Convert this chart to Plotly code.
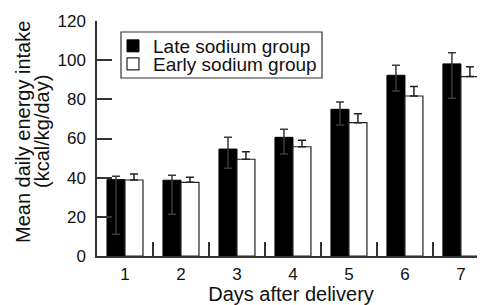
import plotly.graph_objects as go

days = ["1", "2", "3", "4", "5", "6", "7"]
late_mean = [39.0, 38.7, 54.6, 60.6, 74.9, 92.3, 98.1]
late_err_plus = [1.7, 2.5, 6.0, 4.1, 3.8, 5.1, 5.7]
late_err_minus = [27.9, 17.4, 9.8, 8.5, 8.0, 8.0, 17.6]
early_mean = [38.8, 37.6, 49.4, 55.8, 68.1, 81.7, 91.6]
early_err_plus = [3.1, 2.6, 3.8, 3.3, 4.6, 4.8, 5.1]
early_err_minus = [0, 0, 0, 0, 0, 0, 0]
y_title_lines = ["Mean daily energy intake", "(kcal/kg/day)"]

FONT = "Liberation Sans, Arial, sans-serif"

fig = go.Figure()
fig.add_trace(go.Bar(
    x=days, y=late_mean, name="Late sodium group", legend="legend",
    marker=dict(color="#000000", line=dict(color="#000000", width=1)),
    error_y=dict(type="data", symmetric=False, array=late_err_plus,
                 arrayminus=late_err_minus, color="#3a3a3a", thickness=1.5, width=4),
))
fig.add_trace(go.Bar(
    x=days, y=early_mean, name="Early sodium group", legend="legend2",
    marker=dict(color="#ffffff", line=dict(color="#222222", width=1.2)),
    error_y=dict(type="data", symmetric=False, array=early_err_plus,
                 arrayminus=early_err_minus, color="#222222", thickness=1.5, width=4),
))

# page has an 8px body margin: the plot area should span x 97..485, y 21..256 in the window
PL, PT, PW, PH = 97, 21, 388, 235


def px_x(px):
    return (px - PL) / PW


def px_y(py):
    return (PT + PH - py) / PH


leg_common = dict(
    xanchor="left", yanchor="middle",
    bgcolor="rgba(0,0,0,0)", borderwidth=0,
    font=dict(family=FONT, size=19, color="#111111"),
    itemclick=False,
)

fig.update_layout(
    width=477, height=297,
    margin=dict(l=89, r=0, t=13, b=49, autoexpand=False),
    paper_bgcolor="white", plot_bgcolor="white",
    barmode="group", bargap=0.357, bargroupgap=0,
    font=dict(family=FONT, size=17, color="#111111"),
    showlegend=True,
    legend=dict(x=px_x(113), y=px_y(46), **leg_common),
    legend2=dict(x=px_x(113), y=px_y(64), **leg_common),
    shapes=[dict(type="rect", xref="paper", yref="paper",
                 x0=px_x(121), x1=px_x(322), y0=px_y(78), y1=px_y(32),
                 line=dict(color="#333333", width=1.2), fillcolor="rgba(0,0,0,0)",
                 layer="above")],
    annotations=[
        dict(text=y_title_lines[0], xref="paper", yref="paper", x=px_x(23), y=px_y(132),
             xanchor="center", yanchor="middle", textangle=-90, showarrow=False,
             font=dict(family=FONT, size=20, color="#111111")),
        dict(text=y_title_lines[1], xref="paper", yref="paper", x=px_x(42), y=px_y(132),
             xanchor="center", yanchor="middle", textangle=-90, showarrow=False,
             font=dict(family=FONT, size=20, color="#111111")),
    ],
    xaxis=dict(
        type="category", range=[-0.5, 6.43], automargin=False,
        showline=True, linecolor="#333333", linewidth=1.5,
        ticks="inside", tickson="boundaries", ticklen=14, tickwidth=1.5, tickcolor="#333333",
        showgrid=False, zeroline=False,
        tickfont=dict(size=17), ticklabelstandoff=2,
        title=dict(text="Days after delivery", font=dict(size=20), standoff=6),
    ),
    yaxis=dict(
        range=[0, 120], tickvals=[0, 20, 40, 60, 80, 100, 120], automargin=False,
        showline=True, linecolor="#333333", linewidth=1.5,
        ticks="inside", ticklen=15, tickwidth=1.5, tickcolor="#333333",
        showgrid=False, zeroline=False,
        tickfont=dict(size=17), ticklabelstandoff=6,
    ),
)

fig.write_html("out.html")
